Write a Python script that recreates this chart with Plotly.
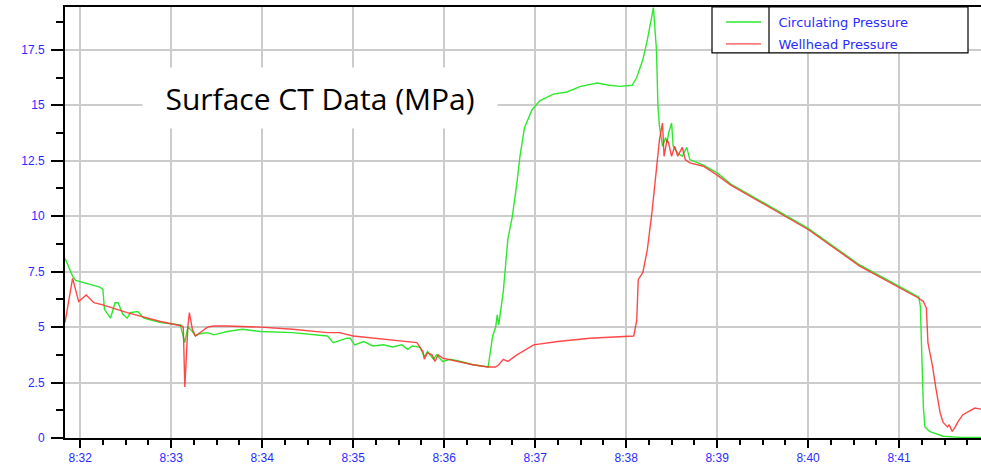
import plotly.graph_objects as go

DAY = "2024-01-01 "

# Circulating Pressure (MPa)
circ_time = ["08:31:50", "08:31:55", "08:31:57", "08:32:07", "08:32:13", "08:32:15", "08:32:16",
             "08:32:20", "08:32:23", "08:32:25", "08:32:28", "08:32:31", "08:32:33", "08:32:38",
             "08:32:42", "08:32:53", "08:33:06", "08:33:09", "08:33:11", "08:33:14", "08:33:16",
             "08:33:19", "08:33:24", "08:33:28", "08:33:37", "08:33:47", "08:33:59", "08:34:20",
             "08:34:43", "08:34:47", "08:34:51", "08:34:56", "08:34:58", "08:35:01", "08:35:07",
             "08:35:13", "08:35:20", "08:35:26", "08:35:32", "08:35:36", "08:35:39", "08:35:44",
             "08:35:47", "08:35:49", "08:35:53", "08:35:55", "08:35:59", "08:36:04", "08:36:11",
             "08:36:19", "08:36:29", "08:36:30", "08:36:32", "08:36:34", "08:36:35", "08:36:36",
             "08:36:39", "08:36:42", "08:36:45", "08:36:48", "08:36:50", "08:36:53", "08:36:58",
             "08:37:03", "08:37:12", "08:37:21", "08:37:30", "08:37:41", "08:37:49", "08:37:56",
             "08:38:04", "08:38:07", "08:38:11", "08:38:14", "08:38:18", "08:38:20", "08:38:21",
             "08:38:22", "08:38:24", "08:38:26", "08:38:27", "08:38:28", "08:38:30", "08:38:31",
             "08:38:34", "08:38:37", "08:38:40", "08:38:42", "08:38:51", "08:39:00", "08:39:09",
             "08:40:00", "08:40:34", "08:41:01", "08:41:13", "08:41:14", "08:41:15", "08:41:16",
             "08:41:17", "08:41:20", "08:41:29", "08:41:40", "08:41:54"]
circ_mpa = [8.1, 7.3, 7.1, 6.9, 6.8, 6.7, 5.8,
            5.4, 6.1, 6.1, 5.6, 5.4, 5.65, 5.7,
            5.4, 5.2, 5.1, 4.3, 5.0, 4.8, 4.6,
            4.7, 4.75, 4.65, 4.8, 4.9, 4.8, 4.75,
            4.6, 4.3, 4.4, 4.5, 4.5, 4.2, 4.35,
            4.15, 4.2, 4.1, 4.2, 4.0, 4.15, 4.1,
            3.65, 3.9, 3.55, 3.75, 3.45, 3.55, 3.45,
            3.3, 3.2, 3.7, 4.6, 5.0, 5.55, 5.1,
            6.6, 8.95, 10.0, 11.5, 12.7, 14.0, 14.8,
            15.2, 15.5, 15.6, 15.85, 16.0, 15.9, 15.85,
            15.9, 16.25, 17.05, 17.95, 19.4, 17.5, 14.95,
            14.05, 13.15, 13.55, 13.3, 13.75, 14.2, 13.15,
            12.85, 12.7, 13.1, 12.55, 12.3, 11.95, 11.45,
            9.45, 7.8, 6.8, 6.35, 5.95, 3.55, 1.4,
            0.5, 0.3, 0.08, 0.03, 0.02]

# Wellhead Pressure (MPa)
well_time = ["08:31:50", "08:31:55", "08:31:59", "08:32:04", "08:32:09", "08:32:15", "08:32:31",
             "08:32:53", "08:33:07", "08:33:08", "08:33:09", "08:33:11", "08:33:12", "08:33:14",
             "08:33:16", "08:33:19", "08:33:24", "08:33:28", "08:33:37", "08:33:59", "08:34:20",
             "08:34:43", "08:34:51", "08:35:00", "08:35:13", "08:35:36", "08:35:42", "08:35:46",
             "08:35:47", "08:35:49", "08:35:52", "08:35:54", "08:35:56", "08:35:59", "08:36:09",
             "08:36:19", "08:36:29", "08:36:34", "08:36:36", "08:36:39", "08:36:42", "08:36:48",
             "08:36:59", "08:37:15", "08:37:36", "08:38:05", "08:38:07", "08:38:08", "08:38:11",
             "08:38:14", "08:38:17", "08:38:20", "08:38:22", "08:38:24", "08:38:25", "08:38:27",
             "08:38:28", "08:38:30", "08:38:32", "08:38:34", "08:38:37", "08:38:39", "08:38:42",
             "08:38:51", "08:39:00", "08:39:09", "08:40:00", "08:40:34", "08:41:01", "08:41:13",
             "08:41:16", "08:41:18", "08:41:19", "08:41:22", "08:41:24", "08:41:27", "08:41:29",
             "08:41:32", "08:41:33", "08:41:35", "08:41:37", "08:41:39", "08:41:42", "08:41:46",
             "08:41:50", "08:41:54"]
well_mpa = [5.2, 7.2, 6.15, 6.45, 6.1, 6.0, 5.65,
            5.25, 5.05, 5.0, 2.3, 5.0, 5.65, 4.9,
            4.6, 4.75, 5.0, 5.05, 5.05, 5.0, 4.9,
            4.75, 4.75, 4.6, 4.5, 4.35, 4.3, 3.9,
            3.55, 3.85, 3.75, 3.45, 3.75, 3.6, 3.45,
            3.3, 3.2, 3.2, 3.3, 3.55, 3.45, 3.75,
            4.2, 4.35, 4.5, 4.6, 5.3, 7.15, 7.45,
            8.5, 10.15, 12.25, 13.45, 14.2, 12.7, 13.45,
            13.3, 12.7, 13.15, 12.7, 13.1, 12.55, 12.4,
            12.25, 11.85, 11.4, 9.4, 7.75, 6.75, 6.3,
            6.15, 5.85, 4.3, 3.25, 2.35, 1.15, 0.7,
            0.5, 0.6, 0.3, 0.5, 0.75, 1.05, 1.2,
            1.35, 1.3]

series_names = ["Circulating Pressure", "Wellhead Pressure"]
chart_label = "Surface CT Data (MPa)"
x_start, x_end = "08:31:50", "08:41:54"
y_max = 19.43

BLUE = "#2b2bff"
PAD = "&nbsp;&nbsp;&nbsp;"  # gap between legend symbol column and text column

fig = go.Figure()
fig.add_trace(go.Scatter(x=[DAY + t for t in circ_time], y=circ_mpa, mode="lines",
                         name=PAD + series_names[0], legendgroup="a",
                         line=dict(color="#2ee82e", width=1.4)))
fig.add_trace(go.Scatter(x=[DAY + t for t in well_time], y=well_mpa, mode="lines",
                         name=PAD + series_names[1], legendgroup="b",
                         line=dict(color="#ff2a2a", width=1.4), opacity=0.85))

W, H = 981, 465
L, R, T, B = 65, 0, 7, 26.5
pw, ph = W - L - R, H - T - B

def px_x(p):
    return (p - L) / pw

def px_y(p):
    return (H - B - p) / ph

fig.update_layout(
    width=W, height=H,
    margin=dict(l=L, r=R, t=T, b=B),
    paper_bgcolor="white", plot_bgcolor="white",
    showlegend=True,
    legend=dict(x=px_x(721), y=1.0, xanchor="left", yanchor="top",
                bgcolor="rgba(0,0,0,0)", borderwidth=0,
                itemwidth=35, tracegroupgap=2,
                font=dict(family="DejaVu Sans", size=13, color=BLUE)),
    xaxis=dict(type="date", range=[DAY + x_start, DAY + x_end],
               tick0=DAY + "08:32:00", dtick=60000, tickformat="%-H:%M",
               showgrid=True, gridcolor="#cccccc", gridwidth=1.5,
               showline=True, linecolor="black", linewidth=2, mirror=True,
               ticks="outside", ticklen=8, tickwidth=1.5, tickcolor="black",
               minor=dict(dtick=15000, ticks="outside", ticklen=5, tickwidth=1.5,
                          tickcolor="black", showgrid=False),
               tickfont=dict(family="Liberation Sans", size=12, color=BLUE),
               zeroline=False, fixedrange=True),
    yaxis=dict(range=[0, y_max], dtick=2.5, tick0=0,
               showgrid=True, gridcolor="#cccccc", gridwidth=1.5,
               showline=True, linecolor="black", linewidth=2,
               ticks="outside", ticklen=12, tickwidth=1.5, tickcolor="black",
               minor=dict(dtick=1.25, ticks="outside", ticklen=7, tickwidth=1.5,
                          tickcolor="black", showgrid=False),
               tickfont=dict(family="Liberation Sans", size=12, color=BLUE),
               ticklabelstandoff=4,
               zeroline=False, fixedrange=True),
    shapes=[
        dict(type="rect", xref="paper", yref="paper",
             x0=px_x(712), x1=px_x(968), y0=px_y(53), y1=1.0,
             line=dict(color="black", width=1.2), fillcolor="white", layer="above"),
        dict(type="line", xref="paper", yref="paper",
             x0=px_x(769), x1=px_x(769), y0=px_y(53), y1=1.0,
             line=dict(color="black", width=1.2), layer="above"),
    ],
    annotations=[
        dict(text=chart_label, xref="paper", yref="paper",
             x=px_x(320), y=px_y(98), xanchor="center", yanchor="middle",
             showarrow=False, bgcolor="white", width=354, height=60, borderpad=0,
             font=dict(family="Open Sans", size=30, color="black")),
    ],
)

fig.write_html("out.html")
